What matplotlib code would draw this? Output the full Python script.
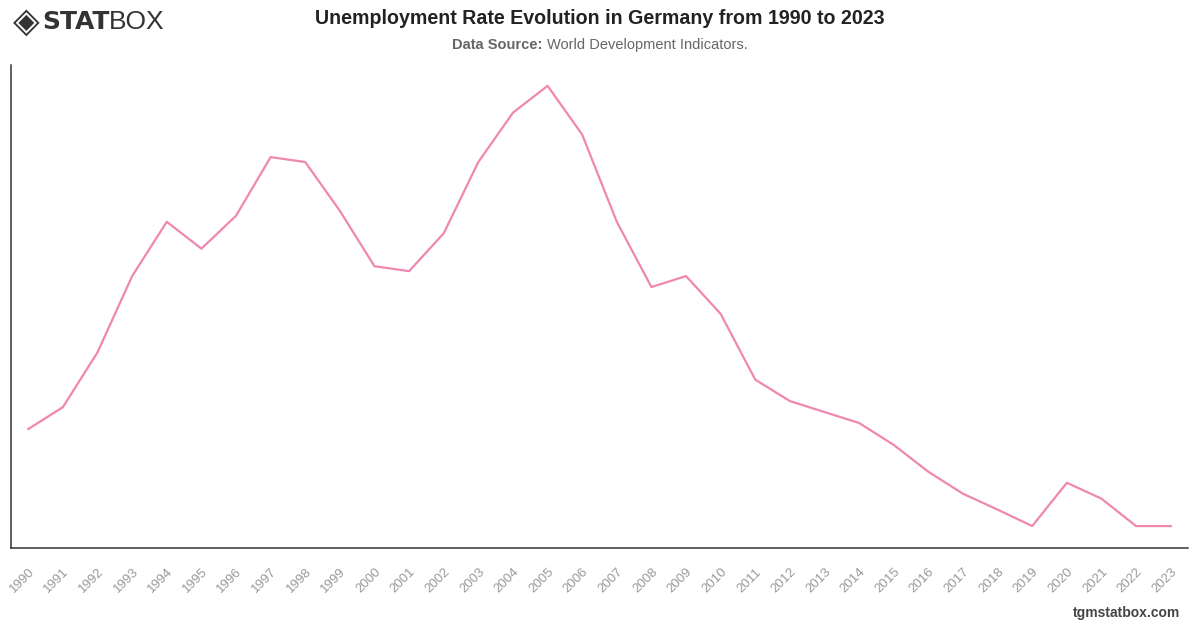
import matplotlib
matplotlib.use("Agg")
import matplotlib.pyplot as plt

years = list(range(1990, 2024))
rates = [4.91, 5.31, 6.31, 7.70, 8.69, 8.20, 8.80, 9.87, 9.78, 8.89, 7.88, 7.79,
         8.48, 9.78, 10.68, 11.17, 10.28, 8.69, 7.50, 7.70, 7.01, 5.81, 5.42, 5.22,
         5.02, 4.62, 4.13, 3.73, 3.44, 3.14, 3.93, 3.64, 3.14, 3.14]
tick_labels = [str(y) for y in years]

title = "Unemployment Rate Evolution in Germany from 1990 to 2023"

fig = plt.figure(figsize=(12, 6.28), dpi=100)
ax = fig.add_axes([11/1200, 1-548/628, (1188-11)/1200, (548-65)/628])

ax.plot(years, rates, color="#f087b0", linewidth=1.6, solid_joinstyle="round")
ax.set_xlim(1989.5, 2023.5)
ax.set_ylim(2.74, 11.55)
ax.set_yticks([])
ax.set_xticks(years)
ax.set_xticklabels(tick_labels, rotation=45, ha="right", rotation_mode="anchor",
                   fontsize=9.5, color="#999999", family="Liberation Sans")
ax.tick_params(axis="x", length=0, pad=13)
for s in ["top", "right"]:
    ax.spines[s].set_visible(False)
for s in ["left", "bottom"]:
    ax.spines[s].set_color("#333333")
    ax.spines[s].set_linewidth(1.1)

# Title and subtitle
fig.text(0.5, 1-18/628, title, ha="center", va="center", fontsize=14.1,
         fontweight="bold", color="#222222", family="Liberation Sans")
sub1 = fig.text(0.5, 1-45/628, "Data Source: ", ha="right", va="center", fontsize=10.5,
                fontweight="bold", color="#666666", family="Liberation Sans")
fig.canvas.draw()
renderer = fig.canvas.get_renderer()
w1 = sub1.get_window_extent(renderer=renderer).width
sub2 = fig.text(0.5, 1-45/628, "World Development Indicators.", ha="left", va="center",
                fontsize=10.5, color="#666666", family="Liberation Sans")
w2 = sub2.get_window_extent(renderer=renderer).width
start = 600 - (w1 + w2)/2
sub1.set_position(((start + w1)/1200, 1-45/628))
sub2.set_position(((start + w1)/1200, 1-45/628))

# Logo
fig.text(13/1200, 1-22/628, "\u25C8", ha="left", va="center", fontsize=25,
         color="#333333", family="DejaVu Sans")
fig.text(42/1200, 1-22/628, "STAT", ha="left", va="center", fontsize=18,
         fontweight="heavy", color="#333333", family="DejaVu Sans")
fig.text(109/1200, 1-22/628, "BOX", ha="left", va="center", fontsize=19,
         fontweight="light", color="#333333", family="Liberation Sans")

# Footer
fig.text(1180/1200, 1-613/628, "tgmstatbox.com", ha="right", va="center", fontsize=10,
         fontweight="bold", color="#444444", family="Liberation Sans")

fig.savefig("out.png", dpi=100)
